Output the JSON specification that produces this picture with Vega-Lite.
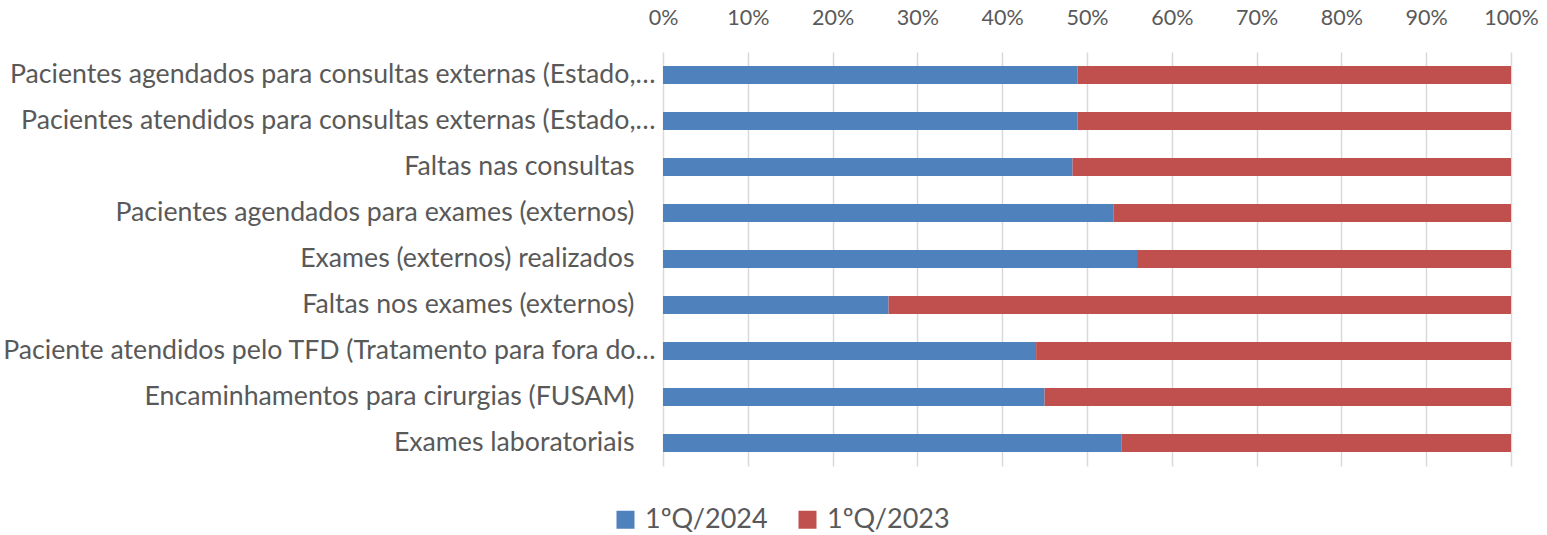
{
  "$schema": "https://vega.github.io/schema/vega-lite/v6.json",
  "width": 848,
  "height": 414,
  "autosize": {"type": "none"},
  "padding": {"left": 663, "top": 52, "right": 36, "bottom": 69},
  "background": "white",
  "data": {
    "values": [
      {"item": "Pacientes agendados para consultas externas (Estado,…", "periodo": "1ºQ/2024", "valor": 48.9},
      {"item": "Pacientes agendados para consultas externas (Estado,…", "periodo": "1ºQ/2023", "valor": 51.1},
      {"item": "Pacientes atendidos para consultas externas (Estado,…", "periodo": "1ºQ/2024", "valor": 48.9},
      {"item": "Pacientes atendidos para consultas externas (Estado,…", "periodo": "1ºQ/2023", "valor": 51.1},
      {"item": "Faltas nas consultas", "periodo": "1ºQ/2024", "valor": 48.3},
      {"item": "Faltas nas consultas", "periodo": "1ºQ/2023", "valor": 51.7},
      {"item": "Pacientes agendados para exames (externos)", "periodo": "1ºQ/2024", "valor": 53.1},
      {"item": "Pacientes agendados para exames (externos)", "periodo": "1ºQ/2023", "valor": 46.9},
      {"item": "Exames (externos) realizados", "periodo": "1ºQ/2024", "valor": 55.9},
      {"item": "Exames (externos) realizados", "periodo": "1ºQ/2023", "valor": 44.1},
      {"item": "Faltas nos exames (externos)", "periodo": "1ºQ/2024", "valor": 26.6},
      {"item": "Faltas nos exames (externos)", "periodo": "1ºQ/2023", "valor": 73.4},
      {"item": "Paciente atendidos pelo TFD  (Tratamento para fora do…", "periodo": "1ºQ/2024", "valor": 44.0},
      {"item": "Paciente atendidos pelo TFD  (Tratamento para fora do…", "periodo": "1ºQ/2023", "valor": 56.0},
      {"item": "Encaminhamentos para cirurgias (FUSAM)", "periodo": "1ºQ/2024", "valor": 45.0},
      {"item": "Encaminhamentos para cirurgias (FUSAM)", "periodo": "1ºQ/2023", "valor": 55.0},
      {"item": "Exames laboratoriais", "periodo": "1ºQ/2024", "valor": 54.1},
      {"item": "Exames laboratoriais", "periodo": "1ºQ/2023", "valor": 45.9}
    ]
  },
  "mark": {"type": "bar"},
  "encoding": {
    "y": {
      "field": "item",
      "type": "nominal",
      "sort": null,
      "scale": {"paddingInner": 0.61, "paddingOuter": 0.305},
      "axis": {
        "title": null,
        "domain": false,
        "ticks": false,
        "grid": false,
        "labelFont": "Lato",
        "labelFontSize": 26.7,
        "labelColor": "#595959",
        "labelPadding": {"condition": {"test": "indexof(datum.label, '…') < 0", "value": 29}, "value": 8},
        "labelLimit": 0
      }
    },
    "x": {
      "field": "valor",
      "type": "quantitative",
      "stack": "normalize",
      "scale": {"domain": [0, 1]},
      "axis": {
        "orient": "top",
        "title": null,
        "format": "%",
        "values": [0, 0.1, 0.2, 0.3, 0.4, 0.5, 0.6, 0.7, 0.8, 0.9, 1],
        "domain": false,
        "ticks": false,
        "grid": true,
        "gridColor": "#D9D9D9",
        "gridWidth": 1.5,
        "labelFont": "Lato",
        "labelFontSize": 21.5,
        "labelColor": "#595959",
        "labelPadding": 23,
        "labelFlush": false
      }
    },
    "order": {"field": "periodo", "sort": "descending"},
    "color": {
      "field": "periodo",
      "type": "nominal",
      "sort": ["1ºQ/2024", "1ºQ/2023"],
      "scale": {"domain": ["1ºQ/2024", "1ºQ/2023"], "range": ["#4F81BD", "#C0504D"]},
      "legend": {
        "title": null,
        "orient": "none",
        "direction": "horizontal",
        "legendX": -51,
        "legendY": 454,
        "symbolType": "square",
        "symbolSize": 324,
        "symbolStrokeWidth": 0,
        "labelFont": "Lato",
        "labelFontSize": 27,
        "labelColor": "#595959",
        "labelOffset": 6,
        "labelLimit": 300,
        "columnPadding": 26,
        "padding": 0
      }
    }
  },
  "config": {
    "view": {"stroke": null}
  }
}
